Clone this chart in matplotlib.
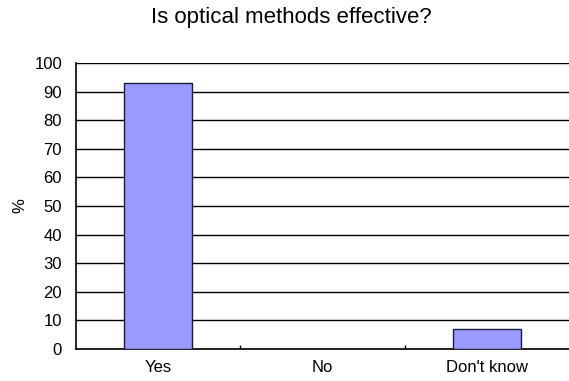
import matplotlib
matplotlib.use("Agg")
import matplotlib.pyplot as plt
import numpy as np

categories = ["Yes", "No", "Don't know"]
percent = [93, 0, 7]
yticks = [0, 10, 20, 30, 40, 50, 60, 70, 80, 90, 100]

plt.rcParams["font.family"] = ["Liberation Sans", "DejaVu Sans"]

fig = plt.figure(figsize=(5.69, 3.81), dpi=100)
ax = fig.add_axes([76 / 569, 32 / 381, 493 / 569, 286 / 381])

x = np.arange(len(categories))
ax.bar(x, percent, width=0.41, color="#9999FF", edgecolor="#1a1a40", linewidth=1.0, zorder=3)

ax.set_xlim(-0.5, len(categories) - 0.5)
ax.set_ylim(0, 100)
ax.set_yticks(yticks)
ax.set_yticklabels([str(v) for v in yticks], fontsize=12)
ax.set_xticks(x)
ax.set_xticklabels(categories, fontsize=12)
ax.tick_params(axis="x", which="major", length=0, pad=8)
ax.set_xticks(x[:-1] + 0.5, minor=True)
ax.tick_params(axis="x", which="minor", direction="in", length=3, width=1)
ax.tick_params(axis="y", length=0, pad=10)

ax.yaxis.grid(True, color="black", linewidth=1.0, zorder=0)
ax.set_axisbelow(True)
for s in ["top", "right"]:
    ax.spines[s].set_visible(False)
ax.spines["left"].set_linewidth(1.2)
ax.spines["bottom"].set_linewidth(1.2)

ax.set_ylabel("%", fontsize=12, labelpad=5)
fig.text(291 / 569, 1 - 17 / 381, "Is optical methods effective?", ha="center", va="center", fontsize=16)

fig.savefig("out.png", dpi=100)
